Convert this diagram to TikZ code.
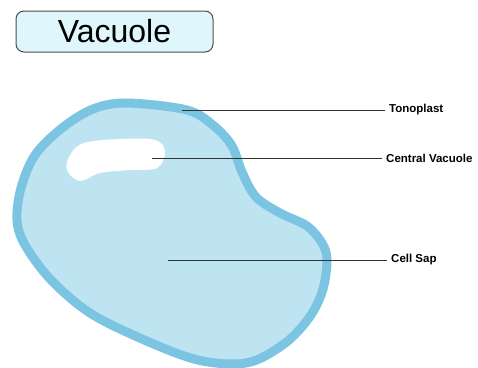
\documentclass[tikz,border=0pt]{standalone}
\usepackage{fontspec}
\setmainfont{Liberation Sans}
\definecolor{membrane}{HTML}{7BC4E2}
\definecolor{sap}{HTML}{BEE4F1}
\definecolor{titlefill}{HTML}{DFF6FC}
\definecolor{leader}{HTML}{333333}
\tikzset{
  partlabel/.style={anchor=west, inner sep=4pt, font=\fontsize{11.5}{12}\selectfont\bfseries},
  leaderline/.style={draw=leader, line width=0.9pt}
}
\begin{document}
\begin{tikzpicture}[x=1pt, y=-1pt]
  \useasboundingbox (0,0) rectangle (478,367);
  % heading box
  \node[draw=black!70, fill=titlefill, rounded corners=8pt, line width=1pt,
        minimum width=197pt, minimum height=41pt, inner sep=0pt,
        font=\fontsize{32}{32}\selectfont] (title) at (114.5,31.5) {Vacuole};
  % vacuole body with tonoplast rim
  \draw[draw=membrane, fill=sap, line width=9pt] plot[smooth cycle, tension=0.55] coordinates {
    (127,103) (187,110) (214,126) (232,146) (242,172) (256,197) (280,213)
    (307,226) (322,243) (327,260) (323,289) (311,315) (289,340) (259,359)
    (233,364) (194,359) (142,339) (90,313) (51,280) (25,245) (17,220)
    (21,188) (35,155) (62,128) (93,109)};
  % shine
  \fill[white] plot[smooth cycle, tension=0.6] coordinates {
    (70,155) (84,143) (120,139) (155,140) (165,152) (157,168) (130,170)
    (100,173) (80,181) (67,170)};
  % labels and leader lines
  \coordinate (tp) at (182,110);
  \coordinate (cv) at (152,158);
  \coordinate (cs) at (168,260);
  \node[partlabel] (tonoplast) at (385,110) {Tonoplast};
  \node[partlabel] (central) at (382,158) {Central Vacuole};
  \node[partlabel] (cellsap) at (387,260) {Cell Sap};
  \draw[leaderline] (tp) -- (tonoplast.west);
  \draw[leaderline] (cv) -- (central.west);
  \draw[leaderline] (cs) -- (cellsap.west);
\end{tikzpicture}
\end{document}
